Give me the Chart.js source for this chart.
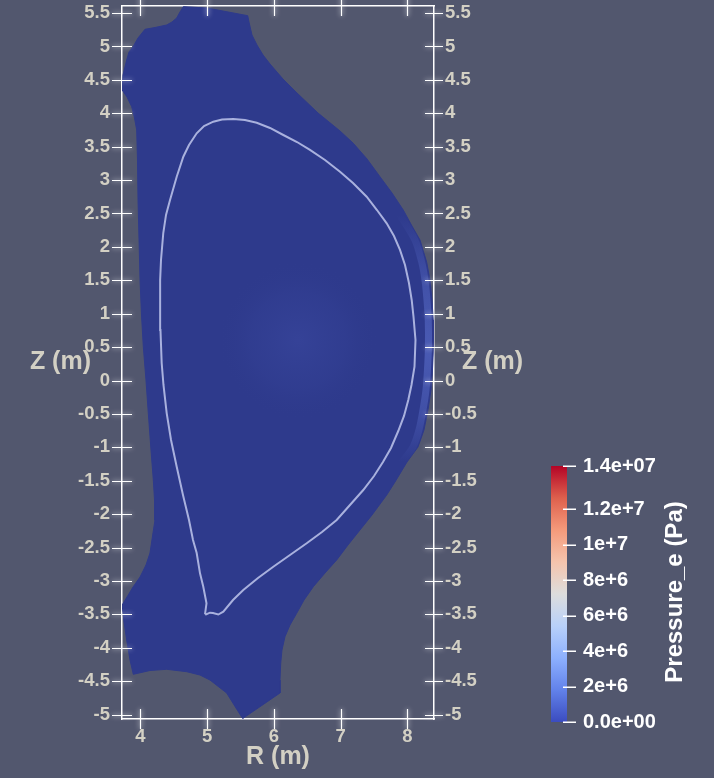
<!DOCTYPE html>
<html><head><meta charset="utf-8">
<script src="https://cdn.jsdelivr.net/npm/chart.js@4/dist/chart.umd.min.js"></script>
<style>html,body{margin:0;padding:0;background:#52576e;overflow:hidden}canvas{display:block}</style>
</head><body>
<canvas id="c" width="714" height="778"></canvas>
<script>
// ---- data (metres) ----
const rTicks = [4, 5, 6, 7, 8];
const zTicks = [-5, -4.5, -4, -3.5, -3, -2.5, -2, -1.5, -1, -0.5, 0, 0.5, 1, 1.5, 2, 2.5, 3, 3.5, 4, 4.5, 5, 5.5];
const rRange = [3.726, 8.397];
const zRange = [-5.067, 5.606];

// computational domain outline
const domainR = [4.644,4.999,5.608,5.627,5.672,5.747,5.837,5.942,6.136,6.346,6.661,6.990,7.189,7.394,7.588,7.768,7.937,8.067,8.187,8.287,8.337,8.367,8.386,8.389,8.374,8.352,8.307,8.247,8.157,7.993,7.813,7.689,7.469,7.289,7.109,6.940,6.765,6.590,6.451,6.341,6.241,6.166,6.121,6.102,6.091,6.091,5.533,5.433,5.293,5.043,4.894,4.695,4.395,4.145,3.895,3.846,3.796,3.756,3.728,3.801,3.891,3.996,4.085,4.145,4.190,4.220,4.213,4.195,4.160,4.120,4.085,4.045,4.018,3.996,3.981,3.966,3.958,3.946,3.913,3.871,3.801,3.728,3.741,3.796,3.831,3.891,3.966,4.070,4.220,4.395,4.475,4.545,4.594,4.644];
const domainZ = [5.596,5.576,5.461,5.367,5.172,5.022,4.873,4.738,4.513,4.304,4.004,3.735,3.551,3.316,3.051,2.807,2.552,2.313,2.103,1.774,1.504,1.205,0.906,0.501,0.157,-0.142,-0.442,-0.741,-0.996,-1.220,-1.519,-1.714,-2.013,-2.238,-2.463,-2.687,-2.882,-3.087,-3.286,-3.485,-3.660,-3.835,-4.034,-4.234,-4.484,-4.678,-5.060,-4.903,-4.678,-4.484,-4.409,-4.359,-4.323,-4.341,-4.398,-4.184,-3.885,-3.615,-3.361,-3.241,-3.091,-2.942,-2.762,-2.582,-2.283,-2.088,-1.789,-1.490,-1.040,-0.491,0.007,0.506,0.981,1.504,2.103,2.702,3.301,3.750,3.930,4.099,4.244,4.349,4.573,4.798,4.918,4.997,5.127,5.257,5.284,5.322,5.367,5.427,5.516,5.596];

// separatrix contour
const sepR = [4.969,4.991,4.943,4.894,4.844,4.789,4.729,4.639,4.545,4.460,4.395,4.347,4.320,4.302,4.295,4.299,4.310,4.344,4.385,4.445,4.545,4.644,4.729,4.844,4.954,5.093,5.223,5.392,5.567,5.743,5.942,6.141,6.346,6.540,6.765,6.990,7.184,7.389,7.543,7.689,7.798,7.888,7.963,8.022,8.063,8.090,8.120,8.105,8.060,8.012,7.948,7.862,7.753,7.633,7.499,7.338,7.139,6.940,6.720,6.491,6.241,5.991,5.762,5.542,5.388,5.243,5.168,5.088,5.043,4.984,4.969];
const sepZ = [-3.496,-3.335,-3.087,-2.886,-2.582,-2.388,-2.088,-1.714,-1.290,-0.891,-0.487,-0.067,0.262,0.756,1.205,1.504,1.804,2.208,2.478,2.702,3.051,3.350,3.525,3.701,3.810,3.874,3.907,3.915,3.900,3.859,3.780,3.675,3.570,3.451,3.301,3.126,2.957,2.751,2.552,2.353,2.163,1.954,1.729,1.460,1.205,0.955,0.606,0.207,-0.067,-0.292,-0.531,-0.756,-1.010,-1.220,-1.430,-1.639,-1.864,-2.088,-2.268,-2.437,-2.612,-2.787,-2.957,-3.136,-3.286,-3.461,-3.503,-3.481,-3.476,-3.503,-3.496];

// brighter pedestal band along the outboard edge
const edgeR = [7.888,8.112,8.213,8.262,8.292,8.311,8.314,8.299,8.277,8.232,8.172,8.082,7.918];
const edgeZ = [2.478,2.103,1.774,1.504,1.205,0.906,0.501,0.157,-0.142,-0.442,-0.741,-0.996,-1.220];

// slightly raised core
const coreR = [6.36];
const coreZ = [0.6];

// colour bar
const cbValues = [0, 2e6, 4e6, 6e6, 8e6, 1e7, 1.2e7, 1.443e7];
const cbLabels = ['0.0e+00', '2e+6', '4e+6', '6e+6', '8e+6', '1e+7', '1.2e+7', '1.4e+07'];
const cbMin = 0, cbMax = 1.443e7;
const cbStops = [[0,'rgb(59,76,192)'],[0.125,'rgb(98,130,234)'],[0.25,'rgb(141,176,254)'],[0.375,'rgb(184,208,249)'],[0.5,'rgb(221,221,221)'],[0.625,'rgb(245,196,173)'],[0.75,'rgb(244,154,123)'],[0.875,'rgb(222,96,77)'],[1,'rgb(180,4,38)']];
const titleR = 'R (m)', titleZ = 'Z (m)', titleCb = 'Pressure_e (Pa)';

// ---- styling ----
const BG = '#52576e';
const AX = '#d3d0c4';
const FONT = '"Liberation Sans", Arial, sans-serif';
const pts = (rs, zs) => rs.map((r, i) => ({x: r, y: zs[i]}));

const bgPlugin = {id: 'bg', beforeDraw(c) {
  const ctx = c.ctx; ctx.save(); ctx.fillStyle = BG; ctx.fillRect(0, 0, c.width, c.height); ctx.restore();
}};

const decor = {id: 'decor', afterDraw(c) {
  const ctx = c.ctx, a = c.chartArea, sx = c.scales.x, sy = c.scales.y;
  ctx.save();
  // glowing cross ticks
  ctx.strokeStyle = '#ffffff'; ctx.lineWidth = 1.2;
  ctx.shadowColor = 'rgba(255,255,255,0.95)'; ctx.shadowBlur = 5;
  ctx.beginPath();
  zTicks.forEach(v => {
    const y = Math.round(sy.getPixelForValue(v)) + 0.5;
    ctx.moveTo(a.left - 10, y); ctx.lineTo(a.left + 10, y);
    ctx.moveTo(a.right - 9, y); ctx.lineTo(a.right + 9, y);
  });
  rTicks.forEach(v => {
    const x = Math.round(sx.getPixelForValue(v)) + 0.5;
    ctx.moveTo(x, a.bottom - 10); ctx.lineTo(x, a.bottom + 10);
    ctx.moveTo(x, a.top - 10); ctx.lineTo(x, a.top + 10);
  });
  ctx.stroke();
  ctx.shadowBlur = 0; ctx.shadowColor = 'transparent';

  // axis titles
  ctx.fillStyle = AX; ctx.font = 'bold 25px ' + FONT; ctx.textBaseline = 'middle';
  const ym = sy.getPixelForValue((zRange[0] + zRange[1]) / 2);
  ctx.textAlign = 'right'; ctx.fillText(titleZ, 91, ym);
  ctx.textAlign = 'left'; ctx.fillText(titleZ, 462, ym);
  ctx.textAlign = 'center'; ctx.fillText(titleR, (a.left + a.right) / 2, 757);

  // colour bar
  const bx = 551, bw = 16, bt = 466, bb = 722;
  const g = ctx.createLinearGradient(0, bb, 0, bt);
  cbStops.forEach(s => g.addColorStop(s[0], s[1]));
  ctx.fillStyle = g; ctx.fillRect(bx, bt, bw, bb - bt);
  const py = v => bb - (v - cbMin) / (cbMax - cbMin) * (bb - bt);
  ctx.strokeStyle = '#ffffff'; ctx.lineWidth = 1.5;
  ctx.beginPath();
  cbValues.forEach(v => { const y = Math.round(py(v)) + 0.25; ctx.moveTo(563, y); ctx.lineTo(576, y); });
  ctx.stroke();
  ctx.fillStyle = '#ffffff'; ctx.font = 'bold 20px ' + FONT; ctx.textAlign = 'left'; ctx.textBaseline = 'middle';
  cbValues.forEach((v, i) => ctx.fillText(cbLabels[i], 583, py(v)));
  ctx.save();
  ctx.translate(675, 592); ctx.rotate(-Math.PI / 2);
  ctx.font = 'bold 24px ' + FONT; ctx.textAlign = 'center'; ctx.textBaseline = 'middle';
  ctx.fillText(titleCb, 0, 0);
  ctx.restore();
  ctx.restore();
}};

const edgeGradient = c => {
  const ch = c.chart; if (!ch.chartArea) return 'rgba(0,0,0,0)';
  const sy = ch.scales.y;
  const y0 = sy.getPixelForValue(edgeZ[0]), y1 = sy.getPixelForValue(edgeZ[edgeZ.length - 1]);
  const g = ch.ctx.createLinearGradient(0, y0, 0, y1);
  g.addColorStop(0, 'rgba(92,112,205,0)');
  g.addColorStop(0.3, 'rgba(92,112,205,0.45)');
  g.addColorStop(0.55, 'rgba(92,112,205,0.6)');
  g.addColorStop(0.8, 'rgba(92,112,205,0.4)');
  g.addColorStop(1, 'rgba(92,112,205,0)');
  return g;
};

const noPad = s => { s.paddingTop = 0; s.paddingBottom = 0; s.paddingLeft = 0; s.paddingRight = 0; };
const tickFont = {family: FONT, size: 18.5, weight: 'bold'};
const gridOpts = {display: true, drawOnChartArea: false, color: 'rgba(0,0,0,0)', tickLength: 10};
const borderOpts = {display: true, color: '#ffffff', width: 1.5};

new Chart(document.getElementById('c'), {
  type: 'scatter',
  data: {datasets: [
    {label: 'separatrix', data: pts(sepR, sepZ), showLine: true, fill: false,
     borderColor: '#a9b1de', borderWidth: 2, pointRadius: 0, tension: 0, order: 0},
    {label: 'edge', data: pts(edgeR, edgeZ), showLine: true, fill: false,
     borderColor: edgeGradient, borderWidth: 7, borderCapStyle: 'round', pointRadius: 0, tension: 0.3, order: 1},
    {label: 'core', data: pts(coreR, coreZ), showLine: false, pointRadius: 80, pointBorderWidth: 0, order: 2,
     pointBackgroundColor: c => {
       const ch = c.chart; if (!ch.chartArea || !c.parsed) return 'rgba(0,0,0,0)';
       const x = ch.scales.x.getPixelForValue(c.parsed.x), y = ch.scales.y.getPixelForValue(c.parsed.y);
       const gr = ch.ctx.createRadialGradient(x, y, 0, x, y, 80);
       gr.addColorStop(0, 'rgba(62,76,165,0.45)'); gr.addColorStop(0.6, 'rgba(58,72,160,0.2)'); gr.addColorStop(1, 'rgba(46,58,140,0)');
       return gr;
     }},
    {label: 'domain', data: pts(domainR, domainZ), showLine: true, fill: 'shape',
     backgroundColor: '#2e3a8c', borderColor: '#2e3a8c', borderWidth: 1, pointRadius: 0, tension: 0, order: 3}
  ]},
  options: {
    responsive: false, animation: false, devicePixelRatio: 1,
    layout: {padding: 0, autoPadding: false},
    plugins: {legend: {display: false}, tooltip: {enabled: false}},
    scales: {
      x: {type: 'linear', position: 'bottom', min: rRange[0], max: rRange[1],
          afterBuildTicks: s => { s.ticks = rTicks.map(v => ({value: v})); },
          afterFit: s => { s.height = 59; noPad(s); },
          ticks: {color: AX, font: tickFont, padding: -3, maxRotation: 0, autoSkip: false, callback: v => String(v)},
          grid: gridOpts, border: borderOpts},
      x2: {type: 'linear', axis: 'x', position: 'top', min: rRange[0], max: rRange[1],
          afterBuildTicks: s => { s.ticks = rTicks.map(v => ({value: v})); },
          afterFit: s => { s.height = 6; noPad(s); },
          ticks: {display: false}, grid: gridOpts, border: borderOpts},
      y: {type: 'linear', position: 'left', min: zRange[0], max: zRange[1],
          afterBuildTicks: s => { s.ticks = zTicks.map(v => ({value: v})); },
          afterFit: s => { s.width = 122; noPad(s); },
          ticks: {color: AX, font: tickFont, padding: 2, autoSkip: false, callback: v => String(v)},
          grid: gridOpts, border: borderOpts},
      y2: {type: 'linear', axis: 'y', position: 'right', min: zRange[0], max: zRange[1],
          afterBuildTicks: s => { s.ticks = zTicks.map(v => ({value: v})); },
          afterFit: s => { s.width = 280; noPad(s); },
          ticks: {color: AX, font: tickFont, padding: 1, autoSkip: false, callback: v => String(v)},
          grid: gridOpts, border: borderOpts}
    }
  },
  plugins: [bgPlugin, decor]
});
</script>
</body></html>
